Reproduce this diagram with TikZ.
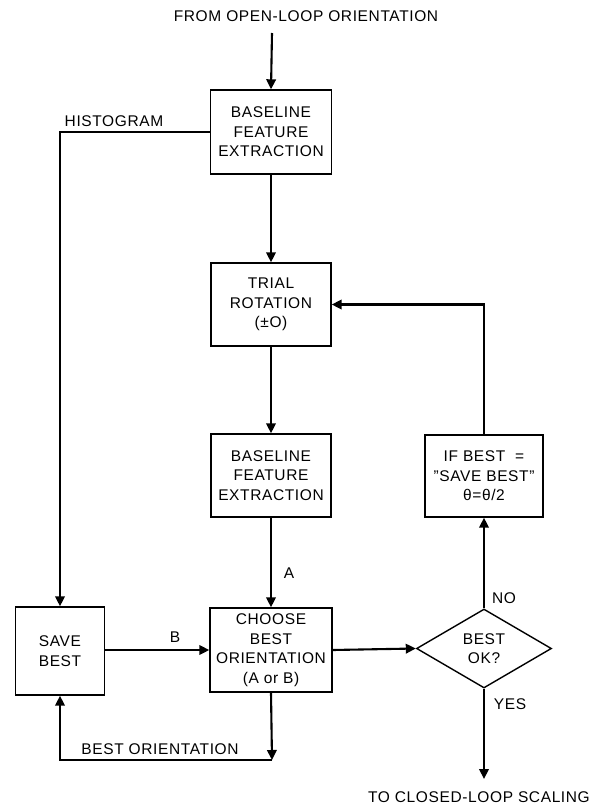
\documentclass[tikz,border=0pt]{standalone}
\usepackage{fontspec}
\setmainfont[LetterSpace=4]{Liberation Sans}
\usetikzlibrary{shapes.geometric,arrows.meta}
\begin{document}
\begin{tikzpicture}[x=1pt,y=-1pt,
  every node/.style={font=\fontsize{15.5pt}{19.5pt}\selectfont},
  box/.style={draw,line width=1.4pt,align=center,inner sep=0pt},
  lbl/.style={inner sep=0pt},
  conn/.style={line width=2.1pt},
  arr/.style={conn,-{Triangle[length=10pt,width=9.5pt]}}]
\useasboundingbox (0,0) rectangle (594,806);
% nodes
\node[lbl] (top) at (306,16) {FROM OPEN-LOOP ORIENTATION};
\coordinate (s) at (272,33);
\node[box,minimum width=121,minimum height=84] (b1) at (271,132) {BASELINE\\FEATURE\\EXTRACTION};
\node[box,minimum width=120,minimum height=83] (b2) at (271,304.5) {TRIAL\\ROTATION\\(±O)};
\node[box,minimum width=120,minimum height=83] (b3) at (271,475.5) {BASELINE\\FEATURE\\EXTRACTION};
\node[box,minimum width=122,minimum height=84] (ch) at (271,650) {CHOOSE\\BEST\\ORIENTATION\\(A or B)};
\node[box,minimum width=89,minimum height=88] (sv) at (60,651) {SAVE\\BEST};
\node[box,minimum width=118,minimum height=82] (ifb) at (484,476) {IF BEST \ =\\"SAVE BEST"\\θ=θ/2};
\node[box,shape=diamond,minimum width=135,minimum height=79] (dm) at (484,648.5) {BEST\\OK?};
\coordinate (c1) at (272,760);
\coordinate (c2) at (60,760);
\coordinate (e) at (484,779);
\node[lbl,anchor=east] (bot) at (590,797) {TO CLOSED-LOOP SCALING};
% labels
\node[lbl] (lh) at (114,121) {HISTOGRAM};
\node[lbl] (la) at (289,573) {A};
\node[lbl] (lb) at (175,637) {B};
\node[lbl] (lbo) at (160,749) {BEST ORIENTATION};
\node[lbl] (lno) at (504,598) {NO};
\node[lbl] (lyes) at (510,704) {YES};
% connectors
\draw[arr] (s) -- (b1.north);
\draw[arr] (b1.west) -| (sv.north);
\draw[arr] (b1.south) -- (b2.north);
\draw[arr] (b2.south) -- (b3.north);
\draw[arr] (b3.south) -- (ch.north);
\draw[arr] (sv.east|-ch.west) -- (ch.west);
\draw[arr] (ch.east) -- (dm.west);
\draw[arr] (ch.south) -- (c1);
\draw[arr] (c1) -- (c2) -- (sv.south);
\draw[arr] (dm.north) -- (ifb.south);
\draw[arr] (ifb.north) |- (b2.east);
\draw[arr] (dm.south) -- (e);
\end{tikzpicture}
\end{document}
